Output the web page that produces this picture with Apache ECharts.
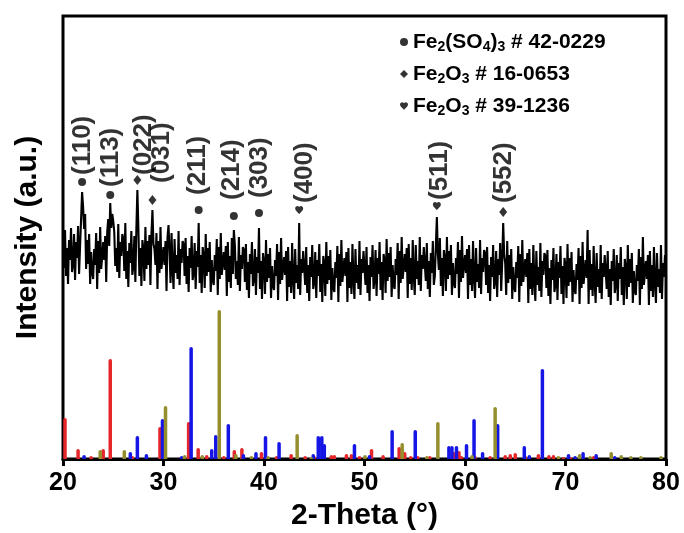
<!DOCTYPE html>
<html><head><meta charset="utf-8">
<script src="https://cdn.jsdelivr.net/npm/echarts@6/dist/echarts.min.js"></script>
<style>html,body{margin:0;padding:0;background:#fff}#c{width:684px;height:533px}</style>
</head><body><div id="c"></div><script>
// ---- measured XRD trace (2-Theta from 20 to 80, step 0.1) ----
const scanStart = 20, scanStep = 0.1;
const xrdIntensity = [
223,191,229,183,211,175,219,199,231,187,
195,225,179,217,201,233,185,213,240,267,
252,230,245,190,219,195,225,175,207,187,
180,210,194,226,170,218,186,232,190,202,
217,199,223,177,227,240,213,256,231,245,
238,227,193,211,187,235,181,217,203,225,
220,188,236,180,208,172,216,196,228,184,
193,223,177,230,269,231,183,211,173,219,
210,178,232,190,218,194,224,174,225,249,
215,210,194,226,170,218,186,232,190,202,
212,194,218,168,222,234,208,176,226,190,
170,220,186,204,180,228,174,210,196,218,
215,183,221,175,203,167,211,191,223,179,
186,216,170,208,192,236,176,204,166,212,
203,171,225,183,211,187,217,167,199,179,
174,204,188,220,164,212,180,226,184,196,
207,189,213,163,217,177,203,171,221,185,
229,214,180,198,174,222,168,204,190,212,
209,177,215,169,197,161,205,185,217,173,
180,210,164,202,186,231,170,198,160,206,
197,165,219,177,205,181,211,161,193,173,
169,199,183,215,159,207,175,221,179,191,
202,184,208,158,212,172,198,166,216,180,
160,210,176,194,170,236,164,200,186,208,
206,174,212,166,194,158,202,182,214,170,
177,207,161,199,183,215,167,195,157,203,
195,163,217,175,203,179,209,159,191,171,
167,197,181,213,157,205,173,219,177,189,
201,183,207,157,211,171,197,165,215,179,
160,210,176,194,170,218,164,200,186,208,
206,174,212,166,194,158,202,182,214,170,
179,209,163,201,185,217,169,197,159,205,
198,166,220,178,206,182,212,162,194,174,
170,200,184,216,160,208,176,222,180,192,
205,187,211,161,215,175,201,169,219,183,
164,214,180,198,174,222,168,204,190,212,
210,178,216,170,198,162,206,186,218,174,
183,213,242,205,189,221,173,201,163,209,
200,168,222,180,208,184,214,164,196,176,
171,201,185,217,161,209,177,223,181,193,
204,186,210,160,214,174,200,168,218,182,
161,211,177,195,171,219,165,201,187,209,
206,174,212,166,194,158,202,182,214,170,
178,208,162,200,184,216,168,196,236,204,
196,164,218,176,204,180,210,160,192,172,
167,197,181,213,157,205,173,219,177,189,
200,182,206,156,210,170,196,164,214,178,
158,208,174,192,168,216,162,198,184,206,
203,171,209,163,191,155,199,179,211,167,
175,205,159,197,181,213,165,193,155,201,
193,161,215,173,201,177,207,157,189,169,
165,195,179,211,155,203,171,217,175,187,
199,181,229,155,209,169,195,163,213,177,
156,206,172,190,166,214,160,196,182,204,
202,170,208,162,190,154,198,178,210,166,
174,204,158,196,180,212,164,192,154,200,
192,160,214,172,200,176,206,156,188,168,
164,194,178,210,154,202,170,222,174,186,
198,180,204,154,208,168,194,162,212,176,
156,206,172,190,166,214,160,196,182,204,
190
];

// ---- standard patterns (2-Theta, relative height) ----
const redSticks = [[20.2,41],[21.5,10],[22.8,3],[24.0,10],[24.7,100],[26.9,3],[29.65,32],[32.5,37],[33.45,11],[34.3,4],[36.0,3],[37.05,9],[37.8,11],[39.75,7],[41.25,3],[42.7,5],[44.1,3],[45.0,3],[46.7,4],[47.0,4],[48.2,5],[48.7,5],[49.5,3],[50.7,10],[51.85,4],[53.45,12],[54.0,7],[54.6,3],[55.3,3],[56.5,3],[58.9,7],[59.4,8],[59.65,3],[61.0,3],[62.5,3],[64.0,4],[64.5,5],[65.0,6],[66.0,3],[67.3,5],[68.35,4],[68.8,4],[69.8,2],[70.5,2],[72.8,3]];
const blueSticks = [[22.1,4],[26.7,7],[27.4,23],[28.3,5],[29.9,40],[31.8,3],[32.75,112],[34.8,10],[35.2,24],[36.45,35],[37.95,5],[39.2,7],[40.15,23],[41.5,17],[44.9,5],[45.4,23],[45.75,23],[46.0,15],[49.0,15],[50.5,4],[52.75,29],[55.05,29],[58.4,13],[58.7,13],[59.15,13],[60.15,15],[60.9,40],[61.75,7],[63.25,35],[65.9,13],[66.4,4],[67.7,90],[70.3,5],[70.95,3],[71.75,7],[73.05,5],[74.9,3]];
const oliveSticks = [[23.7,9],[26.1,9],[30.2,53],[32.1,4],[33.85,4],[35.55,149],[37.2,5],[38.75,3],[40.4,3],[43.3,25],[44.7,2],[50.05,4],[53.75,16],[56.2,3],[57.3,37],[60.7,4],[63.0,52],[69.3,3],[71.4,5],[72.45,3],[74.55,7],[75.55,4],[76.5,3],[77.5,3],[79.5,3]];

// ---- phase markers ----
const phaseNames = ['Fe2(SO4)3 # 42-0229', 'Fe2O3 # 16-0653', 'Fe2O3 # 39-1236'];
const sulfPeaks = [21.9, 24.7, 33.5, 37.0, 39.5];
const sulfMarks = [277, 264, 249, 243, 246];
const sulfHkl = ['(110)', '(113)', '(211)', '(214)', '(303)'];
const hemPeaks = [27.4, 28.9, 63.8];
const hemMarks = [279, 259, 247];
const hemHkl = ['(022)', '(031)', '(552)'];
const magPeaks = [43.5, 57.2];
const magMarks = [249, 253];
const magHkl = ['(400)', '(511)'];
const xTicks = [20, 30, 40, 50, 60, 70, 80];

// ---- styling ----
const FONT = '"Liberation Sans", Arial, Helvetica, sans-serif';
const heartPath = 'path://M12 21.35l-1.45-1.32C5.4 15.36 2 12.28 2 8.5 2 5.42 4.42 3 7.5 3c1.74 0 3.41.81 4.5 2.09C13.09 3.81 14.76 3 16.5 3 19.58 3 22 5.42 22 8.5c0 3.78-3.4 6.86-8.55 11.54L12 21.35z';
// [horizontal shift, gap above symbol] in px
const labelNudge = {'(110)':[1,7],'(113)':[1,8],'(211)':[-1,15],'(214)':[-2,16],'(303)':[1,15],'(022)':[6,5],'(031)':[9,17],'(552)':[1,9],'(400)':[6,7],'(511)':[3,6]};
const legendRich = {
  'Fe2(SO4)3 # 42-0229': 'Fe{s|2}(SO{s|4}){s|3} # 42-0229',
  'Fe2O3 # 16-0653': 'Fe{s|2}O{s|3} # 16-0653',
  'Fe2O3 # 39-1236': 'Fe{s|2}O{s|3} # 39-1236'
};

function markerSeries(name, peaks, marks, hkl, symbol, size) {
  return {
    name: name, type: 'scatter', symbol: symbol, symbolSize: size, z: 5,
    itemStyle: {color: '#000'},
    data: peaks.map((p, i) => ({
      name: hkl[i], value: [p, marks[i]],
      // offset is in the rotated text frame: [along text (up), across (right)]
      label: {offset: [labelNudge[hkl[i]][1], labelNudge[hkl[i]][0]]}
    })),
    label: {
      show: true, position: 'inside', formatter: '{b}', rotate: 90,
      align: 'left', verticalAlign: 'middle',
      fontSize: 26, fontWeight: 'bold', color: '#000', fontFamily: FONT
    }
  };
}
function stickSeries(name, data, color) {
  return {
    name: name, type: 'bar', data: data, barWidth: 3.5, barGap: '-100%', z: 2,
    itemStyle: {color: color, borderRadius: [2, 2, 0, 0]}
  };
}

const chart = echarts.init(document.getElementById('c'), null, {renderer: 'canvas'});
chart.setOption({
  animation: false,
  backgroundColor: '#fff',
  textStyle: {fontFamily: FONT},
  grid: {left: 63, right: 18, top: 16, bottom: 74, show: true, borderColor: '#000', borderWidth: 3, containLabel: false, outerBoundsMode: 'none'},
  legend: {
    orient: 'vertical', left: 395, top: 25, itemWidth: 8, itemHeight: 8, itemGap: 8,
    selectedMode: false,
    data: [{name: phaseNames[0], icon: 'circle'}, {name: phaseNames[1], icon: 'diamond'}, {name: phaseNames[2], icon: heartPath}],
    formatter: n => legendRich[n],
    textStyle: {
      fontSize: 21, fontWeight: 'bold', color: '#000', fontFamily: FONT, lineHeight: 24,
      rich: {s: {fontSize: 14, fontWeight: 'bold', color: '#000', fontFamily: FONT, lineHeight: 10, verticalAlign: 'bottom'}}
    }
  },
  xAxis: {
    type: 'value', min: xTicks[0], max: xTicks[xTicks.length - 1], interval: 10,
    axisLine: {show: true, lineStyle: {color: '#000', width: 3}},
    axisTick: {show: true, length: 7, lineStyle: {color: '#000', width: 3}},
    axisLabel: {fontSize: 25, fontWeight: 'bold', color: '#000', margin: 12, fontFamily: FONT},
    splitLine: {show: false},
    name: '2-Theta (°)', nameLocation: 'middle', nameGap: 38,
    nameTextStyle: {fontSize: 30, fontWeight: 'bold', color: '#000', fontFamily: FONT}
  },
  yAxis: {
    type: 'value', min: 0, max: 443,
    axisLine: {show: false}, axisTick: {show: false}, axisLabel: {show: false}, splitLine: {show: false},
    name: 'Intensity (a.u.)', nameLocation: 'middle', nameGap: 20,
    nameTextStyle: {fontSize: 30, fontWeight: 'bold', color: '#000', fontFamily: FONT}
  },
  series: [
    stickSeries('PDF 42-0229', redSticks, '#e5262a'),
    stickSeries('PDF 16-0653', blueSticks, '#1515e6'),
    stickSeries('PDF 39-1236', oliveSticks, '#948f2c'),
    {
      name: 'sample', type: 'line', symbol: 'none', z: 3, silent: true,
      lineStyle: {color: '#000', width: 2.1},
      data: xrdIntensity.map((v, i) => [scanStart + i * scanStep, v])
    },
    markerSeries(phaseNames[0], sulfPeaks, sulfMarks, sulfHkl, 'circle', 8),
    markerSeries(phaseNames[1], hemPeaks, hemMarks, hemHkl, 'diamond', [8, 10]),
    markerSeries(phaseNames[2], magPeaks, magMarks, magHkl, heartPath, 8)
  ]
});
</script></body></html>
